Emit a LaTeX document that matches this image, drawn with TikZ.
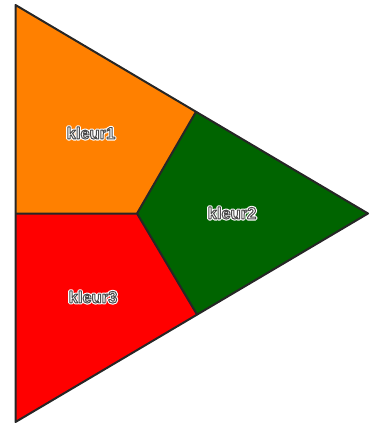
\documentclass[tikz,border=0pt]{standalone}
\usepackage{fontspec}
\setmainfont{Liberation Sans}
\usepackage{xcolor}
\usetikzlibrary{calc}
\definecolor{kleurA}{HTML}{FF8000}
\definecolor{kleurB}{HTML}{006400}
\definecolor{kleurC}{HTML}{FF0000}

\tikzset{
  vlak/.style={draw=black!85,line width=2pt,line join=round},
  lbl/.style={font=\bfseries\fontsize{16.5}{16.5}\selectfont,inner sep=0pt,text=white}
}
% witte tekst met rand (tekst-rendermodus)
\newcommand{\omlijnd}[1]{%
  \rlap{\special{pdf:literal direct 1 Tr 3.2 w 1 G 1 j}#1}%
  \special{pdf:literal direct 2 Tr 1 w 0.3 G 1 j}#1\special{pdf:literal direct 0 Tr}}

\begin{document}
\begin{tikzpicture}[x=1pt,y=-1pt]
\useasboundingbox (0,0) rectangle (369,425);
% hoekpunten
\coordinate (T) at (15.5,5);
\coordinate (B) at (15.5,422);
\coordinate (R) at (368,213.5);
\coordinate (M) at (137,213.5);
\coordinate (L) at (15.5,213.5);
\coordinate (P) at ($(T)!0.512!(R)$);
\coordinate (Q) at ($(R)!0.485!(B)$);
% vlakken
\fill[kleurA] (T) -- (P) -- (M) -- (L) -- cycle;
\fill[kleurB] (P) -- (R) -- (Q) -- (M) -- cycle;
\fill[kleurC] (L) -- (M) -- (Q) -- (B) -- cycle;
\draw[vlak] (L) -- (M) (P) -- (M) -- (Q);
\draw[vlak] (T) -- (R) -- (B) -- cycle;
% labels
\node[lbl] (k1) at (91,133) {\omlijnd{kleur1}};
\node[lbl] (k2) at (232,213) {\omlijnd{kleur2}};
\node[lbl] (k3) at (93,297) {\omlijnd{kleur3}};
\end{tikzpicture}
\end{document}
